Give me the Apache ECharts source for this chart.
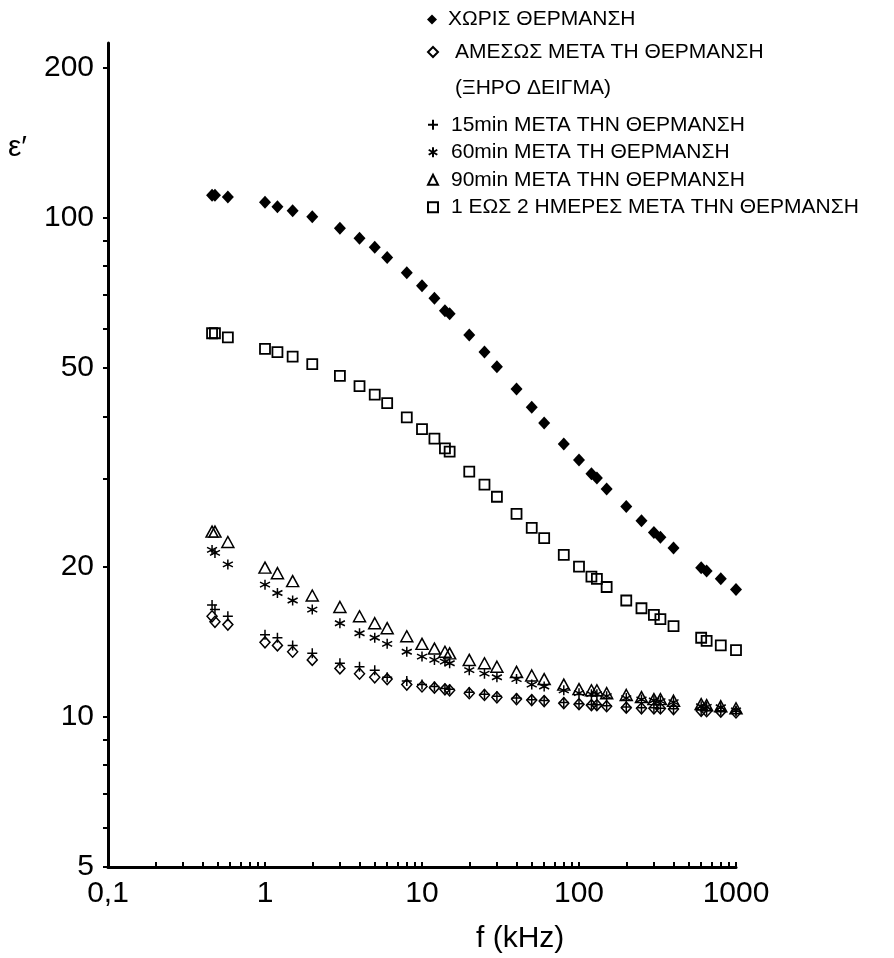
<!DOCTYPE html>
<html>
<head>
    <meta charset="utf-8">
    <title>ε' - f</title>
    <script src="https://cdn.jsdelivr.net/npm/echarts@6/dist/echarts.min.js"></script>
    <style>
        html, body { margin: 0; padding: 0; background: #fff; }
        #chart { width: 894px; height: 958px; }
    </style>
</head>
<body>
<div id="chart"></div>
<script type="text/javascript">
    // συχνότητες (kHz)
    var freqs = [0.46, 0.48, 0.58, 1, 1.2, 1.5, 2, 3, 4, 5, 6, 8, 10, 12, 14, 15, 20, 25, 30, 40,
                 50, 60, 80, 100, 120, 130, 150, 200, 250, 300, 330, 400, 600, 650, 800, 1000];

    // ε' ανα σειρα
    var noHeat = [111, 111, 110, 107.4, 105.2, 103.3, 100.5, 95.3, 91, 87.3, 83.3, 77.6, 73.1, 69, 65.1, 64.2, 58.2, 53.8, 50.3, 45.4,
                  41.7, 38.8, 35.2, 32.7, 30.7, 30.1, 28.6, 26.4, 24.7, 23.4, 22.9, 21.8, 19.9, 19.6, 18.9, 18.0];
    var dryNow = [15.9, 15.5, 15.3, 14.1, 13.9, 13.5, 13.0, 12.5, 12.2, 12.0, 11.9, 11.6, 11.5, 11.44, 11.35, 11.3, 11.15, 11.06, 10.94, 10.85,
                  10.8, 10.75, 10.65, 10.6, 10.55, 10.55, 10.5, 10.43, 10.4, 10.4, 10.39, 10.36, 10.28, 10.26, 10.24, 10.2];
    var min15 = [16.75, 16.4, 15.9, 14.6, 14.4, 13.9, 13.4, 12.8, 12.6, 12.4, 12.0, 11.8, 11.6, 11.5, 11.4, 11.35, 11.2, 11.1, 11.0, 10.9,
                 10.82, 10.78, 10.68, 10.62, 10.58, 10.57, 10.52, 10.46, 10.43, 10.42, 10.4, 10.38, 10.32, 10.3, 10.28, 10.25];
    var min60 = [21.6, 21.3, 20.2, 18.4, 17.7, 17.1, 16.4, 15.4, 14.7, 14.4, 14.0, 13.5, 13.2, 13.0, 12.9, 12.8, 12.4, 12.2, 12.0, 11.9,
                 11.6, 11.5, 11.3, 11.15, 11.1, 11.1, 11.0, 10.9, 10.83, 10.78, 10.75, 10.7, 10.5, 10.47, 10.45, 10.3];
    var min90 = [23.5, 23.5, 22.4, 19.9, 19.4, 18.7, 17.5, 16.6, 15.9, 15.4, 15.05, 14.5, 14.0, 13.7, 13.5, 13.4, 13.0, 12.8, 12.6, 12.3,
                 12.1, 11.9, 11.6, 11.36, 11.3, 11.3, 11.15, 11.06, 10.95, 10.85, 10.85, 10.77, 10.6, 10.55, 10.5, 10.4];
    var days = [58.7, 58.7, 57.6, 54.6, 53.8, 52.7, 50.9, 48.2, 46.0, 44.2, 42.5, 39.8, 37.7, 36.1, 34.5, 34.0, 31.0, 29.2, 27.6, 25.5,
                23.9, 22.8, 21.1, 20.0, 19.1, 18.9, 18.2, 17.1, 16.5, 16.0, 15.7, 15.2, 14.4, 14.2, 13.9, 13.6];

    var names = [
        'ΧΩΡΙΣ ΘΕΡΜΑΝΣΗ',
        'ΑΜΕΣΩΣ ΜΕΤΑ ΤΗ ΘΕΡΜΑΝΣΗ\n(ΞΗΡΟ ΔΕΙΓΜΑ)',
        '15min ΜΕΤΑ ΤΗΝ ΘΕΡΜΑΝΣΗ',
        '60min ΜΕΤΑ ΤΗ ΘΕΡΜΑΝΣΗ',
        '90min ΜΕΤΑ ΤΗΝ ΘΕΡΜΑΝΣΗ',
        '1 ΕΩΣ 2 ΗΜΕΡΕΣ ΜΕΤΑ ΤΗΝ ΘΕΡΜΑΝΣΗ'
    ];

    // ticks / labels
    var xTicks = [0.1, 0.2, 0.3, 0.4, 0.5, 0.6, 0.7, 0.8, 0.9, 1, 2, 3, 4, 5, 6, 7, 8, 9,
                  10, 20, 30, 40, 50, 60, 70, 80, 90, 100, 200, 300, 400, 500, 600, 700, 800, 900, 1000];
    var xLabels = [0.1, 1, 10, 100, 1000];
    var yTicks = [5, 6, 7, 8, 9, 10, 20, 30, 40, 50, 60, 70, 80, 90, 100, 200];
    var yLabels = [5, 10, 20, 50, 100, 200];

    var FONT = 'Liberation Sans, Arial, sans-serif';
    var HOLLOW = 'rgba(255,255,255,0)';

    function pairs(vals) {
        var out = [];
        for (var i = 0; i < freqs.length; i++) {
            out.push([freqs[i], vals[i]]);
        }
        return out;
    }

    function fmt(v) {
        return String(+(+v).toPrecision(6)).replace('.', ',');
    }

    var chart = echarts.init(document.getElementById('chart'));
    chart.setOption({
        animation: false,
        backgroundColor: '#fff',
        grid: { left: 108, right: 158, top: 43, bottom: 91 },
        xAxis: {
            type: 'log', logBase: 10, min: 0.1, max: 1000,
            axisLine: { lineStyle: { color: '#000', width: 3 } },
            axisTick: { inside: true, length: 5, lineStyle: { color: '#000', width: 2 }, customValues: xTicks },
            axisLabel: { customValues: xLabels, formatter: fmt, fontSize: 30, color: '#000', fontFamily: FONT, margin: 12 },
            splitLine: { show: false }
        },
        yAxis: {
            type: 'log', logBase: 10, min: 5, max: 224,
            axisLine: { lineStyle: { color: '#000', width: 3 } },
            axisTick: { inside: false, length: 5, lineStyle: { color: '#000', width: 2 }, customValues: yTicks },
            axisLabel: { customValues: yLabels, formatter: fmt, fontSize: 30, color: '#000', fontFamily: FONT, margin: 14 },
            splitLine: { show: false }
        },
        legend: [
            {
                data: [names[0]], orient: 'vertical', left: 427, top: 6, padding: 0,
                itemWidth: 10, itemHeight: 10,
                textStyle: { fontSize: 21, color: '#000', fontFamily: FONT, lineHeight: 27, padding: [0, 0, 0, 6] }
            },
            {
                // blank first line keeps the icon level with the first text line
                data: [names[1]], orient: 'vertical', left: 427, top: -2, padding: 0,
                itemWidth: 10, itemHeight: 10,
                formatter: function (n) { return ' \n' + n; },
                textStyle: { fontSize: 21, color: '#000', fontFamily: FONT, lineHeight: 36, padding: [0, 0, 0, 12] }
            },
            {
                data: [names[2], names[3], names[4], names[5]], orient: 'vertical', left: 427, top: 111, padding: 0,
                itemWidth: 10, itemHeight: 10, itemGap: 0,
                textStyle: { fontSize: 21, color: '#000', fontFamily: FONT, lineHeight: 27.5, padding: [0, 0, 0, 8] }
            }
        ],
        graphic: [
            { type: 'text', left: 8, top: 133, style: { text: 'ε′', fontSize: 30, fontFamily: FONT, fill: '#000' } },
            { type: 'text', left: 476, top: 924, style: { text: 'f (kHz)', fontSize: 30, fontFamily: FONT, fill: '#000' } }
        ],
        series: [
            {
                name: names[0], type: 'scatter', data: pairs(noHeat),
                symbol: 'diamond', symbolSize: [12, 13],
                itemStyle: { color: '#000', opacity: 1 }
            },
            {
                name: names[1], type: 'scatter', data: pairs(dryNow),
                symbol: 'diamond', symbolSize: [10, 11],
                itemStyle: { color: HOLLOW, borderColor: '#000', borderWidth: 1.5, opacity: 1 }
            },
            {
                name: names[2], type: 'scatter', data: pairs(min15),
                symbol: 'path://M5,0L5,10M0,5L10,5', symbolSize: 10,
                itemStyle: { color: HOLLOW, borderColor: '#000', borderWidth: 1.5, opacity: 1 }
            },
            {
                name: names[3], type: 'scatter', data: pairs(min60),
                symbol: 'path://M5,0L5,10M0.7,2.5L9.3,7.5M9.3,2.5L0.7,7.5', symbolSize: 10,
                itemStyle: { color: HOLLOW, borderColor: '#000', borderWidth: 1.5, opacity: 1 }
            },
            {
                name: names[4], type: 'scatter', data: pairs(min90),
                symbol: 'triangle', symbolSize: [12, 11],
                itemStyle: { color: HOLLOW, borderColor: '#000', borderWidth: 1.5, opacity: 1 }
            },
            {
                name: names[5], type: 'scatter', data: pairs(days),
                symbol: 'rect', symbolSize: 10,
                itemStyle: { color: HOLLOW, borderColor: '#000', borderWidth: 1.8, opacity: 1 }
            }
        ]
    });
</script>
</body>
</html>
